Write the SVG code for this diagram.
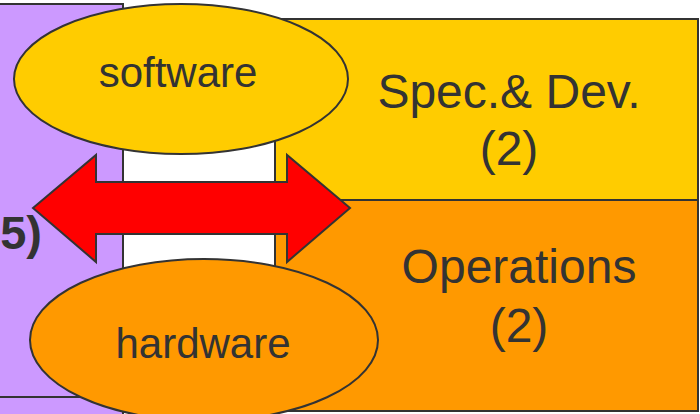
<svg xmlns="http://www.w3.org/2000/svg" width="700" height="414" viewBox="0 0 700 414">
<style>
.box{stroke:#333;stroke-width:2}
.lbl{font-family:"Liberation Sans",Arial,sans-serif;fill:#333;text-anchor:middle}
</style>
<rect width="700" height="414" fill="#fff"/>
<g id="left-panel">
<rect x="-3" y="4" width="126" height="393" fill="#CC99FF" class="box"/>
<rect x="-3" y="397" width="126" height="20" fill="#CC99FF" class="box"/>
<text x="42" y="249" font-family="Liberation Sans,Arial,sans-serif" font-weight="bold" font-size="47" fill="#333" text-anchor="end">5)</text>
</g>
<g id="middle-panel">
<rect x="123" y="60" width="152" height="340" fill="#fff" class="box"/>
</g>
<g id="spec-dev">
<rect x="275" y="19" width="423" height="181" fill="#FFCC00" class="box"/>
<text class="lbl" x="509" y="108" font-size="48">Spec.&amp; Dev.</text>
<text class="lbl" x="509" y="165" font-size="48">(2)</text>
</g>
<g id="operations">
<rect x="275" y="200" width="423" height="211" fill="#FF9900" class="box"/>
<text class="lbl" x="519" y="283" font-size="48">Operations</text>
<text class="lbl" x="519" y="342" font-size="48">(2)</text>
</g>
<g id="software">
<ellipse cx="181" cy="79" rx="167" ry="75" fill="#FFCC00" class="box"/>
<text class="lbl" x="178" y="87" font-size="42">software</text>
</g>
<g id="hardware">
<ellipse cx="204" cy="340" rx="174" ry="81" fill="#FF9900" class="box"/>
<text class="lbl" x="203" y="358" font-size="42">hardware</text>
</g>
<g id="connectors">
<polygon points="33,208 96,155 96,182 287,182 287,155 350,208 287,262 287,234 96,234 96,262" fill="#FF0000" stroke="#333" stroke-width="2" stroke-linejoin="miter"/>
</g>
</svg>
